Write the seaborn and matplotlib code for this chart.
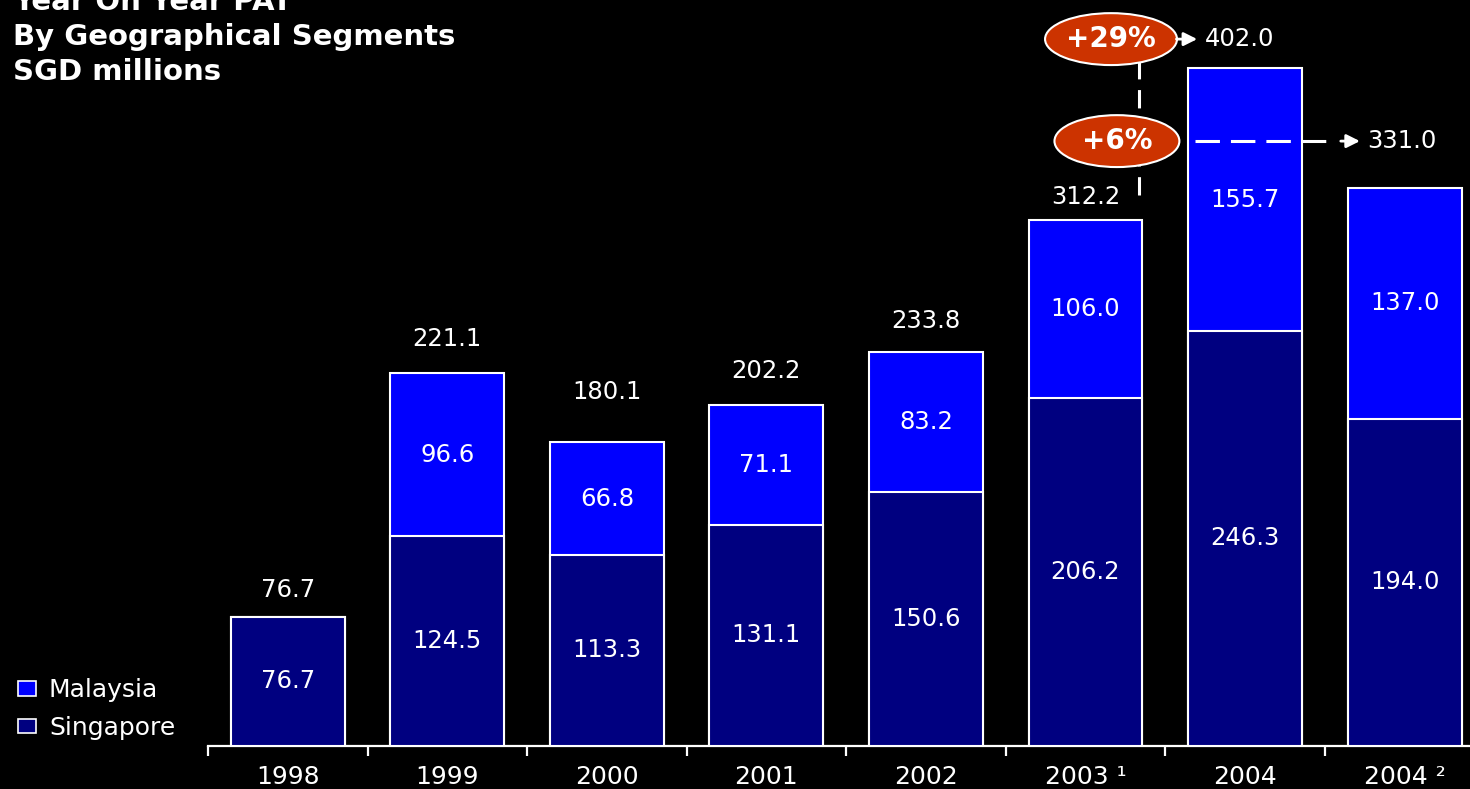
import numpy as np
import pandas as pd
import matplotlib
matplotlib.use("Agg")
import matplotlib.pyplot as plt
from matplotlib.patches import Ellipse, Patch
import seaborn as sns

# ---- data ----
years = ["1998", "1999", "2000", "2001", "2002", "2003 \u00b9", "2004", "2004 \u00b2"]
singapore = [76.7, 124.5, 113.3, 131.1, 150.6, 206.2, 246.3, 194.0]
malaysia = [0.0, 96.6, 66.8, 71.1, 83.2, 106.0, 155.7, 137.0]
totals = [76.7, 221.1, 180.1, 202.2, 233.8, 312.2, 402.0, 331.0]

df = pd.DataFrame({"year": years, "Singapore": singapore,
                   "Malaysia": malaysia, "total": totals})

sns.set_style("white")
plt.rcParams["font.family"] = ["DejaVu Sans"]

c_sing = "#000080"
c_mal = "#0000FF"
c_oval = "#CC3300"

fig = plt.figure(figsize=(14.7, 7.89), dpi=100, facecolor="black")
ax = fig.add_axes([208 / 1470, 1 - 746 / 789, 1 - 208 / 1470, 746 / 789])
ax.set_facecolor("black")

# stacked bars: total (Malaysia colour) first, Singapore on top of it
sns.barplot(data=df, x="year", y="total", order=years, color=c_mal,
            width=0.714, edgecolor="white", linewidth=1.5, ax=ax, zorder=2)
sns.barplot(data=df, x="year", y="Singapore", order=years, color=c_sing,
            width=0.714, edgecolor="white", linewidth=1.5, ax=ax, zorder=3)
# seaborn desaturates by default -> force exact colours
for p in ax.patches[:len(years)]:
    p.set_facecolor(c_mal)
for p in ax.patches[len(years):]:
    p.set_facecolor(c_sing)

ax.set_xlabel("")
ax.set_ylabel("")
ax.set_yticks([])
for s in ["top", "right", "left"]:
    ax.spines[s].set_visible(False)
ax.spines["bottom"].set_color("white")
ax.spines["bottom"].set_linewidth(1.6)

ax.set_xticks(range(len(years)))
ax.set_xticklabels(years, color="white", fontsize=18)
ax.set_xticks(np.arange(-0.5, len(years), 1), minor=True)
ax.tick_params(axis="x", which="major", length=0, pad=14)
ax.tick_params(axis="x", which="minor", bottom=True, length=7, width=1.6,
               color="white", direction="out")
ax.set_xlim(-0.5, 7.41)
ax.set_ylim(0, 442.5)

lbl = dict(color="white", fontsize=17.5, ha="center", va="center", zorder=5)

# segment labels
for i in range(len(years)):
    ax.text(i, singapore[i] / 2, f"{singapore[i]:.1f}", **lbl)
    if malaysia[i] > 0:
        ax.text(i, singapore[i] + malaysia[i] / 2, f"{malaysia[i]:.1f}", **lbl)

# totals above bars (2004 figures are shown in the callouts)
total_pad = [19.5, 24.5, 36.5, 24.5, 22.5, 16]
for i, pad in enumerate(total_pad):
    ax.annotate(f"{totals[i]:.1f}", (i, totals[i]), xytext=(0, pad),
                textcoords="offset points", **lbl)

# ---- growth callouts ----
base = totals[5]
g1 = (totals[6] / base - 1) * 100
g2 = (totals[7] / base - 1) * 100

ax.plot([5.335, 5.335], [327, 419], color="white", lw=2.2,
        linestyle=(0, (6, 3.5)), zorder=4, clip_on=False)
ax.plot([5.686, 6.53], [358.8, 358.8], color="white", lw=2.2,
        linestyle=(0, (8, 3.6)), zorder=4)

for cx, cy, w, txt in [(5.16, 419.3, 0.827, f"+{g1:.0f}%"),
                       (5.197, 358.8, 0.783, f"+{g2:.0f}%")]:
    ax.add_patch(Ellipse((cx, cy), w, 30.8, facecolor=c_oval,
                         edgecolor="white", lw=1.5, zorder=6, clip_on=False))
    ax.text(cx, cy, txt, color="white", fontsize=20, fontweight="bold",
            ha="center", va="center", zorder=7)

arr = dict(arrowstyle="-|>", color="white", lw=2, mutation_scale=20,
           shrinkA=0, shrinkB=0)
ax.annotate("", xy=(5.70, 419.3), xytext=(5.57, 419.3), arrowprops=arr,
            zorder=6)
ax.annotate("", xy=(6.72, 358.8), xytext=(6.60, 358.8), arrowprops=arr,
            zorder=6)
ax.text(5.75, 419.3, f"{totals[6]:.1f}", color="white", fontsize=17.5,
        ha="left", va="center")
ax.text(6.765, 358.8, f"{totals[7]:.1f}", color="white", fontsize=17.5,
        ha="left", va="center")

# ---- legend ----
handles = [Patch(facecolor=c_mal, edgecolor="white", lw=1.2, label="Malaysia"),
           Patch(facecolor=c_sing, edgecolor="white", lw=1.2, label="Singapore")]
fig.legend(handles=handles, loc="lower left", bbox_to_anchor=(0.012, 0.062),
           frameon=False, fontsize=18, labelcolor="white", handlelength=0.75,
           handleheight=0.5, handletextpad=0.5, labelspacing=0.55,
           borderpad=0, borderaxespad=0)

# ---- title ----
for y, t in [(2, "Year On Year PAT"), (37, "By Geographical Segments"),
             (72, "SGD millions")]:
    fig.text(13 / 1470, 1 - y / 789, t, color="white", fontsize=21,
             fontweight="bold", ha="left", va="center")

fig.savefig("out.png", dpi=100, facecolor="black")
